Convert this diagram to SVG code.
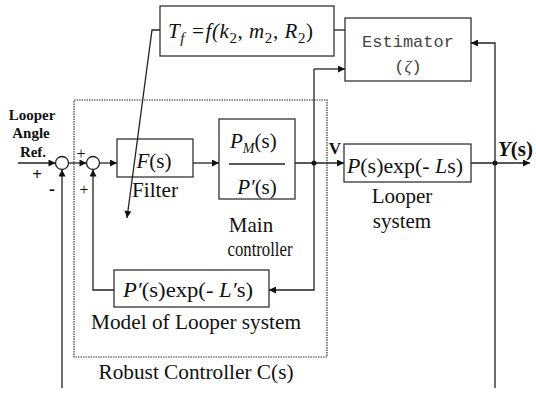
<svg xmlns="http://www.w3.org/2000/svg" width="536" height="394" viewBox="0 0 536 394">
<style>
.box{fill:#fff;stroke:#333;stroke-width:1.3}
.ln{fill:none;stroke:#222;stroke-width:1.3}
text{font-family:"Liberation Serif","Times New Roman",serif;fill:#111}
.t{font-size:21px}
.s14{font-size:14px}
.s15{font-size:15px}
.s16{font-size:16px}
.s17{font-size:17px}
.s18{font-size:18px}
.i{font-style:italic}
.b{font-weight:bold}
.mono{font-family:"Liberation Mono","DejaVu Sans Mono",monospace;font-size:17px;fill:#444}
.zeta{font-family:"Liberation Serif",serif;font-style:italic}
</style>
<defs>
<marker id="ah" viewBox="0 0 10 10" refX="10" refY="5" markerWidth="9" markerHeight="7" markerUnits="userSpaceOnUse" orient="auto"><path d="M0,0 L10,5 L0,10 z" fill="#111"/></marker>
</defs>

<g id="robust-controller">
<rect x="74" y="100" width="253" height="257" fill="none" stroke="#333" stroke-width="1.2" stroke-dasharray="1.5 1"/>
<text class="t" x="196" y="379" text-anchor="middle" textLength="195" lengthAdjust="spacingAndGlyphs">Robust Controller C(s)</text>
</g>

<g id="input-label">
<text class="s15 b" x="32" y="120" text-anchor="middle">Looper</text>
<text class="s15 b" x="31" y="138" text-anchor="middle">Angle</text>
<text class="s15 b" x="33" y="157" text-anchor="middle">Ref.</text>
<text class="s17 b" x="37" y="180" text-anchor="middle">+</text>
<text class="s18 b" x="52" y="195" text-anchor="middle">-</text>
</g>

<g id="sum1">
<circle cx="62" cy="163" r="6.5" fill="#fff" stroke="#222" stroke-width="1.3"/>
</g>
<g id="sum2">
<circle cx="93" cy="163" r="6.5" fill="#fff" stroke="#222" stroke-width="1.3"/>
<text class="s16" x="81" y="159" text-anchor="middle">+</text>
<text class="s16" x="84" y="195" text-anchor="middle">+</text>
</g>

<g id="filter">
<rect class="box" x="117" y="139" width="76" height="38"/>
<text class="t" x="154" y="168" text-anchor="middle"><tspan class="i">F</tspan>(s)</text>
<text class="t" x="155" y="197" text-anchor="middle" textLength="46" lengthAdjust="spacingAndGlyphs">Filter</text>
</g>

<g id="main-controller">
<rect class="box" x="219" y="119" width="76" height="80"/>
<text class="t" x="230" y="148"><tspan class="i">P</tspan><tspan class="i s14" dy="5">M</tspan><tspan dy="-5">(s)</tspan></text>
<line class="ln" x1="229" y1="164" x2="285" y2="164"/>
<text class="t" x="257" y="194" text-anchor="middle"><tspan class="i">P′</tspan>(s)</text>
<text class="t" x="251" y="232" text-anchor="middle">Main</text>
<text class="t" x="260" y="256" text-anchor="middle" textLength="65" lengthAdjust="spacingAndGlyphs">controller</text>
</g>

<g id="model">
<rect class="box" x="114" y="270" width="155" height="37"/>
<text class="t" x="188" y="297" text-anchor="middle" textLength="130" lengthAdjust="spacingAndGlyphs"><tspan class="i">P′</tspan>(s)exp(- <tspan class="i">L′</tspan>s)</text>
<text class="t" x="196" y="329" text-anchor="middle" textLength="210" lengthAdjust="spacingAndGlyphs">Model of Looper system</text>
</g>

<g id="looper-system">
<rect class="box" x="344" y="144" width="127" height="38"/>
<text class="t" x="405" y="173" text-anchor="middle" textLength="116" lengthAdjust="spacingAndGlyphs"><tspan class="i">P</tspan>(s)exp(- <tspan class="i">L</tspan>s)</text>
<text class="t" x="402" y="203" text-anchor="middle">Looper</text>
<text class="t" x="402" y="228" text-anchor="middle">system</text>
</g>

<g id="tf-box">
<rect class="box" x="160" y="6" width="174" height="50"/>
<text class="t" x="168" y="38" textLength="145" lengthAdjust="spacing"><tspan class="i">T</tspan><tspan class="i s15" dy="5">f</tspan><tspan dy="-5" class="i"> =f(k</tspan><tspan class="s15" dy="5">2</tspan><tspan dy="-5">, </tspan><tspan class="i">m</tspan><tspan class="s15" dy="5">2</tspan><tspan dy="-5">, </tspan><tspan class="i">R</tspan><tspan class="s15" dy="5">2</tspan><tspan dy="-5">)</tspan></text>
</g>

<g id="estimator">
<rect class="box" x="345" y="18" width="126" height="63"/>
<text class="mono" x="408" y="47" text-anchor="middle">Estimator</text>
<text class="mono" x="408" y="72" text-anchor="middle">(<tspan class="zeta">ζ</tspan>)</text>
</g>

<g id="signal-labels">
<text class="s17 b" x="335" y="154" text-anchor="middle">V</text>
<text class="t b" x="498" y="156"><tspan class="i">Y</tspan>(s)</text>
</g>

<g id="connectors">
<line class="ln" x1="18" y1="163" x2="55.5" y2="163" marker-end="url(#ah)"/>
<line class="ln" x1="68.5" y1="163" x2="86.5" y2="163" marker-end="url(#ah)"/>
<line class="ln" x1="99.5" y1="163" x2="117" y2="163" marker-end="url(#ah)"/>
<line class="ln" x1="193" y1="163" x2="219" y2="163" marker-end="url(#ah)"/>
<line class="ln" x1="295" y1="163" x2="344" y2="163" marker-end="url(#ah)"/>
<line class="ln" x1="471" y1="163" x2="530" y2="163" marker-end="url(#ah)"/>
<circle cx="314" cy="163" r="2.5" fill="#111"/>
<circle cx="495" cy="163" r="2.5" fill="#111"/>
<polyline class="ln" points="314,69 314,290 269,290" marker-end="url(#ah)"/>
<polyline class="ln" points="314,69 345,69" marker-end="url(#ah)"/>
<polyline class="ln" points="114,290 93,290 93,169.5" marker-end="url(#ah)"/>
<line class="ln" x1="62" y1="388" x2="62" y2="169.5" marker-end="url(#ah)"/>
<polyline class="ln" points="495,388 495,43 471,43" marker-end="url(#ah)"/>
<line class="ln" x1="334" y1="30" x2="345" y2="30"/>
<polyline class="ln" points="160,30 152,30 127,218" marker-end="url(#ah)"/>
</g>
</svg>
